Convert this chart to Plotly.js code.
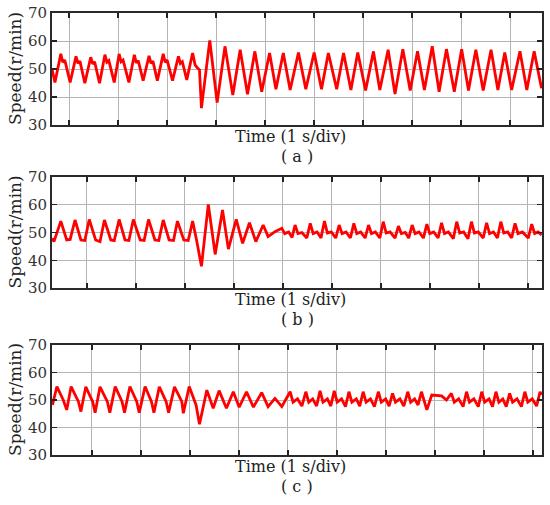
<!DOCTYPE html>
<html>
<head>
<meta charset="utf-8">
<script src="https://cdn.plot.ly/plotly-3.0.1.min.js"></script>
<style>html,body{margin:0;padding:0;background:#fff;}#chart{width:550px;height:505px;}</style>
</head>
<body>
<div id="chart"></div>
<script>
// Panel (a): time (s from left edge of window), speed (r/min)
const timeA = [0.00,0.06,0.18,0.22,0.26,0.37,0.49,0.53,0.57,0.67,0.79,0.83,0.87,0.97,1.08,1.12,1.16,1.27,1.37,1.41,1.45,1.57,1.68,1.72,1.76,1.86,1.98,2.02,2.06,2.15,2.27,2.31,2.35,2.46,2.58,2.62,2.66,2.75,2.87,2.92,2.97,3.01,3.05,3.22,3.37,3.53,3.69,3.84,3.99,4.14,4.28,4.44,4.57,4.72,4.86,5.03,5.18,5.35,5.50,5.64,5.81,5.95,6.10,6.24,6.40,6.56,6.69,6.86,7.00,7.16,7.31,7.46,7.60,7.76,7.90,8.05,8.21,8.36,8.50,8.65,8.80,8.96,9.10,9.24,9.38,9.55,9.69,9.84,9.99];
const speedA = [50.0,45.2,55.4,52.4,53.2,45.2,54.5,52.0,52.8,44.9,54.2,51.8,52.6,44.9,55.1,52.4,53.0,45.2,55.4,52.6,53.2,45.2,55.1,52.2,53.0,45.8,54.7,52.0,52.8,45.8,55.4,52.4,53.2,45.8,54.5,52.0,52.6,46.1,55.7,51.5,50.3,49.7,36.0,60.2,38.0,58.1,40.7,56.9,41.0,56.3,41.9,55.7,42.8,55.7,42.5,55.9,42.8,55.9,42.8,55.7,42.8,55.7,42.5,55.9,42.3,56.3,42.5,56.9,41.1,57.1,42.3,56.3,42.5,58.1,41.9,57.1,41.9,57.1,42.3,56.9,42.3,56.9,42.5,55.9,42.5,56.3,42.5,56.3,43.1];

// Panel (b)
const timeB = [0.00,0.04,0.18,0.30,0.37,0.47,0.59,0.67,0.76,0.89,0.98,1.07,1.20,1.27,1.37,1.49,1.57,1.66,1.80,1.88,1.97,2.10,2.18,2.27,2.39,2.48,2.56,2.69,2.78,2.87,2.95,3.05,3.19,3.33,3.48,3.60,3.76,3.89,4.03,4.16,4.31,4.41,4.55,
  4.69,4.75,4.83,4.90, 4.96,5.02,5.10,5.20, 5.27,5.33,5.41,5.49, 5.56,5.62,5.70,5.79, 5.86,5.92,6.00,6.09, 6.16,6.22,6.30,6.39, 6.46,6.52,6.60,6.69, 6.76,6.82,6.90,7.00, 7.07,7.13,7.21,7.28, 7.35,7.41,7.49,7.58, 7.65,7.71,7.79,7.88, 7.95,8.01,8.09,8.19, 8.26,8.32,8.40,8.49, 8.56,8.62,8.70,8.80, 8.87,8.93,9.01,9.09, 9.16,9.22,9.30,9.38, 9.45,9.51,9.60,9.72, 9.79,9.85,9.92,9.99];
const speedB = [47.9,46.7,54.1,47.3,47.5,54.5,47.3,47.1,54.7,47.3,46.7,54.5,47.3,47.1,54.7,47.3,47.1,54.7,47.3,47.1,54.7,47.3,47.1,54.5,47.3,47.1,54.1,47.3,47.1,54.1,47.3,37.8,60.1,42.1,58.1,44.0,54.7,46.1,53.5,46.7,52.7,48.5,50.3,
  51.5,49.6,50.2,48.2, 52.7,49.6,50.0,48.0, 53.3,49.6,50.2,48.0, 54.1,49.8,50.2,48.0, 52.7,49.6,50.2,48.0, 53.3,49.6,50.2,48.0, 52.7,49.6,50.2,48.0, 53.9,49.8,50.2,48.0, 52.3,49.6,50.0,48.0, 52.7,49.6,50.2,48.0, 53.0,49.6,50.2,48.0, 53.5,49.6,50.2,47.8, 53.9,49.8,50.2,47.8, 53.9,49.8,50.2,48.0, 53.5,49.6,50.2,48.0, 53.9,49.8,50.2,48.0, 53.3,49.6,50.2,48.0, 53.0,49.6,50.2,49.1];

// Panel (c)
const timeC = [0.01,0.10,0.23,0.30,0.39,0.54,0.59,0.69,0.83,0.88,0.98,1.13,1.18,1.29,1.43,1.48,1.59,1.73,1.78,1.90,2.03,2.08,2.19,2.33,2.38,2.50,2.65,2.68,2.80,2.94,2.97,3.01,3.16,3.29,3.41,3.56,3.70,3.82,3.97,4.11,4.28,4.41,4.55,4.69,
  4.86,4.92,5.01,5.10, 5.18,5.24,5.32,5.40, 5.47,5.53,5.62,5.69, 5.76,5.82,5.91,5.99, 6.06,6.12,6.21,6.28, 6.35,6.41,6.50,6.58, 6.66,6.72,6.81,6.88, 6.95,7.01,7.10,7.18, 7.26,7.32,7.40,7.47, 7.54,7.60,7.65,7.75,7.95,8.05, 8.15,8.21,8.30,8.39, 8.46,8.52,8.61,8.70, 8.77,8.83,8.92,8.99, 9.06,9.12,9.20,9.27, 9.34,9.40,9.49,9.58, 9.65,9.71,9.80,9.89, 9.96,9.99];
const speedC = [48.2,54.9,50.0,46.4,54.9,49.4,45.8,54.8,49.4,45.4,54.8,49.4,45.4,54.9,49.4,45.4,54.9,49.4,45.4,54.9,49.4,45.4,54.8,49.4,45.4,54.8,49.4,45.2,54.9,48.2,45.2,41.2,53.6,47.0,53.4,47.0,53.0,47.4,53.0,47.4,52.7,47.6,50.6,47.6,
  53.0,49.2,50.4,47.8, 53.0,49.2,50.4,47.8, 53.3,49.2,50.4,47.8, 53.3,49.2,50.4,47.6, 53.0,49.2,50.4,47.8, 53.0,49.2,50.4,47.6, 53.0,49.2,50.4,47.8, 52.4,49.2,50.4,47.8, 53.0,49.2,50.4,48.2, 53.0,49.0,46.4,51.8,51.5,50.0, 52.4,49.2,50.4,47.6, 53.0,49.2,50.4,47.6, 53.0,49.2,50.4,47.6, 53.0,49.2,50.4,47.6, 52.4,49.2,50.4,47.6, 53.0,49.2,50.4,47.8, 53.0,51.8];

const yTickVals = [30,40,50,60,70];
const yTickText = ['30','40','50','60','70'];
const panelLabels = ['( a )','( b )','( c )'];
const xTitle = 'Time (1 s/div)';
const yTitle = 'Speed(r/min)';
const gridStart = [0.347, 0.714, 0.816];

const W = 550, H = 505;
const xDom = [52/W, 542/W];
const panelsPx = [[13,125],[177,288],[345,455]];
const yDoms = panelsPx.map(p => [1 - p[1]/H, 1 - p[0]/H]);

const serif = 'DejaVu Serif, serif';
const series = [[timeA,speedA],[timeB,speedB],[timeC,speedC]];

const traces = series.map((s,i) => ({
  x: s[0], y: s[1], type: 'scatter', mode: 'lines',
  xaxis: i===0 ? 'x' : 'x'+(i+1), yaxis: i===0 ? 'y' : 'y'+(i+1),
  line: {color: '#ff0000', width: 2.8},
  hoverinfo: 'skip', showlegend: false
}));

const layout = {
  width: W, height: H,
  margin: {l:0, r:0, t:0, b:0},
  paper_bgcolor: '#fff', plot_bgcolor: '#fff',
  showlegend: false,
  annotations: []
};

for (let i=0;i<3;i++){
  const sx = i===0 ? '' : String(i+1);
  layout['xaxis'+sx] = {
    domain: xDom, range: [0, 10], anchor: 'y'+sx,
    tick0: gridStart[i], dtick: 1, tickmode: 'linear',
    showticklabels: false, ticks: 'inside', ticklen: 5, tickwidth: 1.2, tickcolor: '#222',
    showgrid: true, gridcolor: '#b4b4b4', gridwidth: 1,
    showline: true, linecolor: '#2a2a2a', linewidth: 2, mirror: 'ticks',
    zeroline: false, fixedrange: true
  };
  layout['yaxis'+sx] = {
    domain: yDoms[i], range: [30, 70], anchor: 'x'+sx,
    tickmode: 'array', tickvals: yTickVals, ticktext: yTickText,
    ticks: 'inside', ticklen: 5, tickwidth: 1.2, tickcolor: '#222',
    tickfont: {family: serif, size: 15, color: '#333'},
    showgrid: true, gridcolor: '#b4b4b4', gridwidth: 1,
    showline: true, linecolor: '#2a2a2a', linewidth: 2, mirror: 'ticks',
    zeroline: false, fixedrange: true
  };
  const top = panelsPx[i][0], bot = panelsPx[i][1];
  layout.annotations.push({
    xref: 'paper', yref: 'paper', x: 15/W, y: 1 - (top+bot)/2/H,
    text: yTitle, textangle: -90, showarrow: false,
    xanchor: 'center', yanchor: 'middle',
    font: {family: serif, size: 17, color: '#222'}
  });
  layout.annotations.push({
    xref: 'paper', yref: 'paper', x: 290/W, y: 1 - (bot+11)/H,
    text: xTitle, showarrow: false, xanchor: 'center', yanchor: 'middle',
    font: {family: serif, size: 16, color: '#222'}
  });
  layout.annotations.push({
    xref: 'paper', yref: 'paper', x: 297/W, y: 1 - (bot+31)/H,
    text: panelLabels[i], showarrow: false, xanchor: 'center', yanchor: 'middle',
    font: {family: serif, size: 16, color: '#222'}
  });
}

Plotly.newPlot('chart', traces, layout, {staticPlot: true, displayModeBar: false});
</script>
</body>
</html>
